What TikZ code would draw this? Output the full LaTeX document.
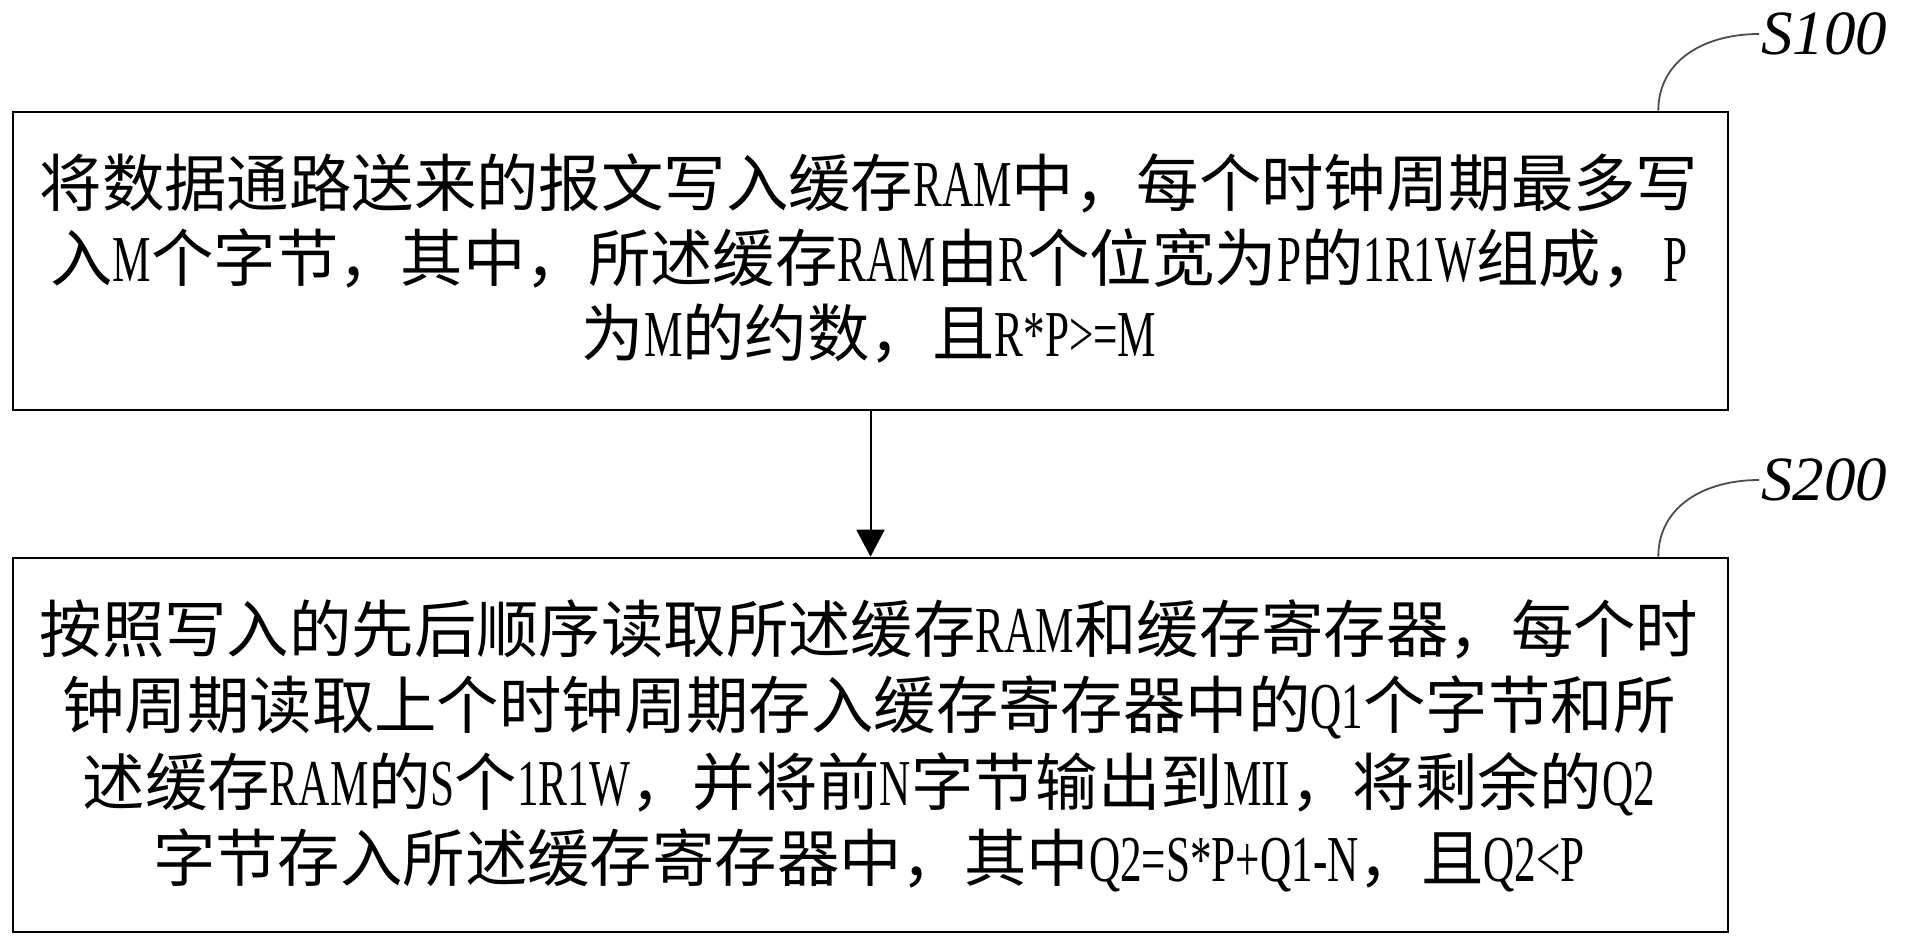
\documentclass[tikz,border=0pt]{standalone}
\usepackage{fontspec}
\setmainfont{Noto Sans CJK SC}
\newfontfamily\lat[FakeStretch=0.66,Scale=1.05]{Liberation Serif}
\newfontfamily\labfont{Liberation Serif}
\usetikzlibrary{arrows.meta,calc}
\begin{document}
\begin{tikzpicture}[x=0.5pt,y=-0.5pt,
  boxstyle/.style={draw=black,line width=1.3pt,minimum width=857.5pt,inner sep=0pt},
  txt/.style={align=center,inner sep=0pt,text=black},
  lab/.style={font=\labfont\itshape\fontsize{31.5pt}{36pt}\selectfont,anchor=west,inner sep=1pt},
  curve/.style={draw=black!70,line width=0.9pt},
  arr/.style={draw=black,line width=1pt,-{Triangle[width=14pt,length=13.5pt]}}]
\useasboundingbox (0,0) rectangle (1906,947);
\fill[white] (0,0) rectangle (1906,947);
\node[boxstyle,minimum height=149pt] (b1) at (870.5,261) {};
\node[boxstyle,minimum height=187pt] (b2) at (870.5,745) {};
\node[txt,font=\fontsize{31.2pt}{37.5pt}\selectfont] (t1) at (869,258) {将数据通路送来的报文写入缓存{\lat RAM}中，每个时钟周期最多写\\入{\lat M}个字节，其中，所述缓存{\lat RAM}由{\lat R}个位宽为{\lat P}的{\lat 1R1W}组成，{\lat P}\\为{\lat M}的约数，且{\lat R*P>=M}};
\node[txt,font=\fontsize{31.2pt}{38.3pt}\selectfont] (t2) at (869,746) {按照写入的先后顺序读取所述缓存{\lat RAM}和缓存寄存器，每个时\\钟周期读取上个时钟周期存入缓存寄存器中的{\lat Q1}个字节和所\\述缓存{\lat RAM}的{\lat S}个{\lat 1R1W}，并将前{\lat N}字节输出到{\lat MII}，将剩余的{\lat Q2}\\字节存入所述缓存寄存器中，其中{\lat Q2=S*P+Q1-N}，且{\lat Q2<P}};
\node[lab] (s1) at (1759,34) {S100};
\node[lab] (s2) at (1759,480) {S200};
\draw[curve] ($(b1.north east)+(-71,0)$) .. controls +(0,-50) and +(-55,0) .. (s1.west);
\draw[curve] ($(b2.north east)+(-71,0)$) .. controls +(0,-50) and +(-55,0) .. (s2.west);
\draw[arr] (b1.south) -- (b2.north);
\end{tikzpicture}
\end{document}
